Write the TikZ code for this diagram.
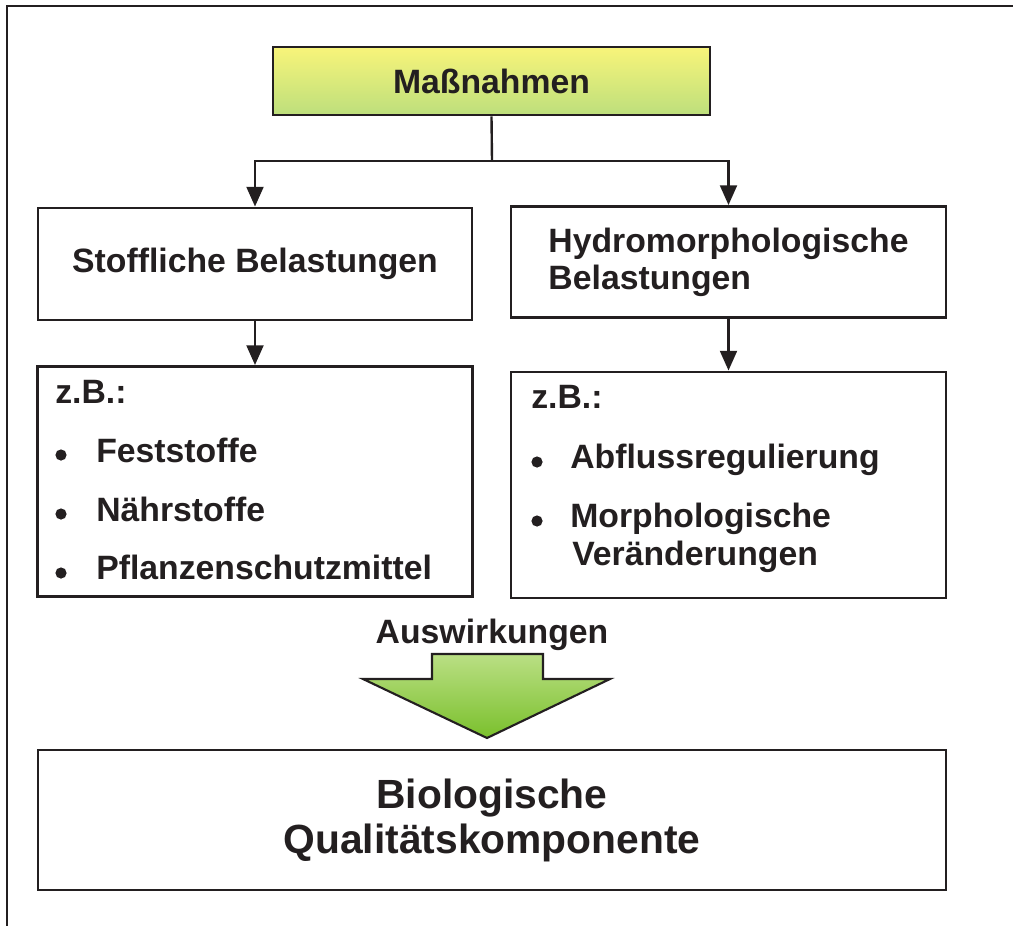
\documentclass[tikz,border=0pt]{standalone}
\usepackage{fontspec}
\setmainfont{Liberation Sans}
\usetikzlibrary{arrows.meta}

\definecolor{inkblack}{HTML}{231F20}
\definecolor{massyellow}{HTML}{F8F47A}
\definecolor{massgreen}{HTML}{BDDF7C}
\definecolor{pfeillight}{HTML}{BADF84}
\definecolor{pfeildark}{HTML}{7AC02C}

\newcommand{\normsize}{\fontsize{24}{26.3}\selectfont}
\newcommand{\bigsize}{\fontsize{29}{32}\selectfont}

\tikzset{
 kasten/.style={draw=inkblack, line width=2.1pt, inner sep=0pt},
 linie/.style={draw=inkblack, line width=1.7pt},
 pfeil/.style={linie, -{Triangle[length=14pt,width=12pt]}},
 schrift/.style={text=inkblack, font=\bfseries\normsize, inner sep=0pt},
}

\begin{document}
\begin{tikzpicture}[x=0.025cm, y=-0.025cm]
%\draw[help lines] (0,0) grid[step=50] (1013,926);
\useasboundingbox (0,0) rectangle (1013,926);

\draw[line width=1.4pt, inkblack] (7,926) -- (7,6) -- (1013,6);

% boxes
\node[kasten, schrift, top color=massyellow, bottom color=massgreen,
 minimum width=437*0.025cm, minimum height=68*0.025cm] (massnahmen) at (491.5,81) {Maßnahmen};

\node[kasten, schrift, minimum width=434*0.025cm, minimum height=112*0.025cm] (stoffl) at (255,264) {Stoffliche Belastungen};
\node[kasten, schrift, align=left, minimum width=435*0.025cm, minimum height=111*0.025cm] (hydro) at (728.5,262) {Hydromorphologische\\Belastungen};

\node[kasten, minimum width=435*0.025cm, minimum height=230*0.025cm] (listel) at (255,481.5) {};
\node[kasten, minimum width=435*0.025cm, minimum height=226*0.025cm] (lister) at (728.5,485) {};

\node[kasten, schrift, font=\bfseries\bigsize, align=center,
 minimum width=908*0.025cm, minimum height=140*0.025cm] (bio) at (492,820) {Biologische\\Qualitätskomponente};

% connectors
\coordinate (gabel) at (492,161);
\draw[linie] (massnahmen.south) -- (gabel);
\draw[pfeil] (gabel) -| (stoffl.north);
\draw[pfeil] (gabel) -| (hydro.north);
\draw[pfeil] (stoffl.south) -- (listel.north);
\draw[pfeil] (hydro.south) -- (lister.north);

% left list
\node[schrift, anchor=base west] (zbl) at (55,403) {z.B.:};
\node[schrift, anchor=base west] (festst) at (96,462) {Feststoffe};
\node[schrift, anchor=base west] (naehrst) at (96,521) {Nährstoffe};
\node[schrift, anchor=base west] (pflanz) at (96,579) {Pflanzenschutzmittel};
\foreach \by in {455,514,573} \fill[inkblack] (61,\by) circle[radius=0.14cm];

% right list
\node[schrift, anchor=base west] (zbr) at (531,408) {z.B.:};
\node[schrift, anchor=base west] (abfluss) at (570,468) {Abflussregulierung};
\node[schrift, anchor=base west] (morpho) at (570,527) {Morphologische};
\node[schrift, anchor=base west] (veraend) at (572,565) {Veränderungen};
\foreach \by in {462,521} \fill[inkblack] (537,\by) circle[radius=0.14cm];

% big arrow
\node[schrift, anchor=base] (auswirk) at (492,643) {Auswirkungen};
\shade[draw=inkblack, line width=1.5pt, top color=pfeillight, bottom color=pfeildark]
 (432,654) -- (543,654) -- (543,679) -- (610,679) -- (487,738) -- (363,679) -- (432,679) -- cycle;

\end{tikzpicture}
\end{document}
